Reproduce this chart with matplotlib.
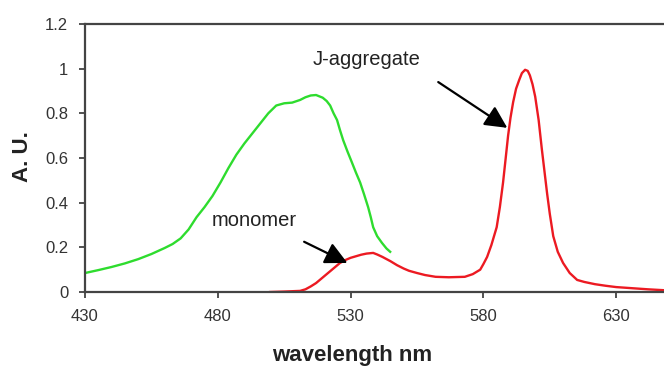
import matplotlib.pyplot as plt

plt.rcParams['font.family'] = ['Liberation Sans', 'DejaVu Sans']

# green spectrum
green_nm = [430, 435, 440, 445, 450, 455, 460, 463, 466, 469, 472, 475, 478, 481,
            484, 487, 490, 493, 496, 499, 502, 505, 508, 511, 513, 515, 517,
            519.5, 521, 522.3, 523.6, 524.9, 526, 527.2, 528.8, 530.5, 532,
            533.6, 535, 536.6, 537.6, 538.5, 540, 541.8, 543.5, 544.9]
green_au = [0.085, 0.098, 0.112, 0.128, 0.147, 0.17, 0.197, 0.215, 0.24, 0.28,
            0.335, 0.38, 0.43, 0.49, 0.555, 0.615, 0.665, 0.71, 0.755, 0.80,
            0.835, 0.845, 0.848, 0.86, 0.872, 0.88, 0.882, 0.87, 0.855, 0.835,
            0.80, 0.77, 0.725, 0.68, 0.63, 0.58, 0.535, 0.49, 0.44, 0.38, 0.335,
            0.29, 0.25, 0.22, 0.195, 0.18]

# red spectrum (monomer band + J-aggregate band)
red_nm = [499.7, 505, 511, 513, 515, 517, 518.5, 520, 522, 524, 526, 528, 530,
          532, 534, 536, 538.5, 540, 542, 545, 547.5, 550, 552, 555, 558, 562,
          567, 573, 576, 578.8, 580, 581.4, 583, 585, 586.2, 587.4, 588.4,
          589.3, 590.2, 591.2, 592.3, 593.5, 594.5, 595.7, 596.7, 597.5, 598.5,
          599.5, 600.8, 602, 603, 604, 605, 606.3, 608, 610, 612.5, 615.3, 618,
          622, 626, 630, 636, 642, 648]
red_au = [0.0, 0.002, 0.005, 0.012, 0.025, 0.04, 0.055, 0.07, 0.09, 0.11, 0.13,
          0.143, 0.153, 0.16, 0.167, 0.172, 0.175, 0.168, 0.157, 0.138, 0.12,
          0.105, 0.095, 0.085, 0.076, 0.068, 0.066, 0.068, 0.08, 0.10, 0.125,
          0.157, 0.21, 0.29, 0.38, 0.49, 0.60, 0.70, 0.78, 0.85, 0.91, 0.95,
          0.98, 0.995, 0.99, 0.97, 0.93, 0.875, 0.77, 0.64, 0.54, 0.44, 0.35,
          0.25, 0.18, 0.13, 0.085, 0.054, 0.045, 0.035, 0.028, 0.022, 0.017,
          0.012, 0.008]

x_ticks = [430, 480, 530, 580, 630]
y_ticks = [0, 0.2, 0.4, 0.6, 0.8, 1, 1.2]
y_labels = ['0', '0.2', '0.4', '0.6', '0.8', '1', '1.2']

fig = plt.figure(figsize=(6.64, 3.72), dpi=100)
ax = fig.add_axes([85 / 664, 1 - 292 / 372, 1 - 85 / 664, 268 / 372])

ax.plot(green_nm, green_au, color='#2edc2e', lw=1.7)
ax.plot(red_nm, red_au, color='#ec1a22', lw=1.7)

ax.set_xlim(430, 648)
ax.set_ylim(0, 1.2)
ax.set_xticks(x_ticks)
ax.set_yticks(y_ticks)
ax.set_yticklabels(y_labels)
ax.tick_params(labelsize=12, colors='#333333', length=4, width=1.2, pad=8)

for side in ['left', 'bottom', 'top']:
    ax.spines[side].set_color('#444444')
    ax.spines[side].set_linewidth(1.6)
ax.spines['right'].set_visible(False)

# labels and arrows
arrow = dict(arrowstyle='-|>,head_length=0.9,head_width=0.45', color='black',
             lw=1.6, shrinkA=0, shrinkB=0, mutation_scale=15)
ax.text(515.7, 1.04, 'J-aggregate', fontsize=14.5, color='#222222', va='center')
ax.annotate('', xy=(589.0, 0.735), xytext=(563.0, 0.94), arrowprops=arrow)
ax.text(477.7, 0.32, 'monomer', fontsize=14.5, color='#222222', va='center')
ax.annotate('', xy=(528.8, 0.13), xytext=(512.5, 0.225), arrowprops=arrow)

fig.text(352 / 664, 1 - 356 / 372, 'wavelength nm', fontsize=16, fontweight='bold',
         ha='center', va='center', color='#222222')
fig.text(22 / 664, 1 - 157 / 372, 'A. U.', fontsize=16, fontweight='bold',
         rotation=90, ha='center', va='center', color='#222222')

plt.savefig('out.png', dpi=100)
